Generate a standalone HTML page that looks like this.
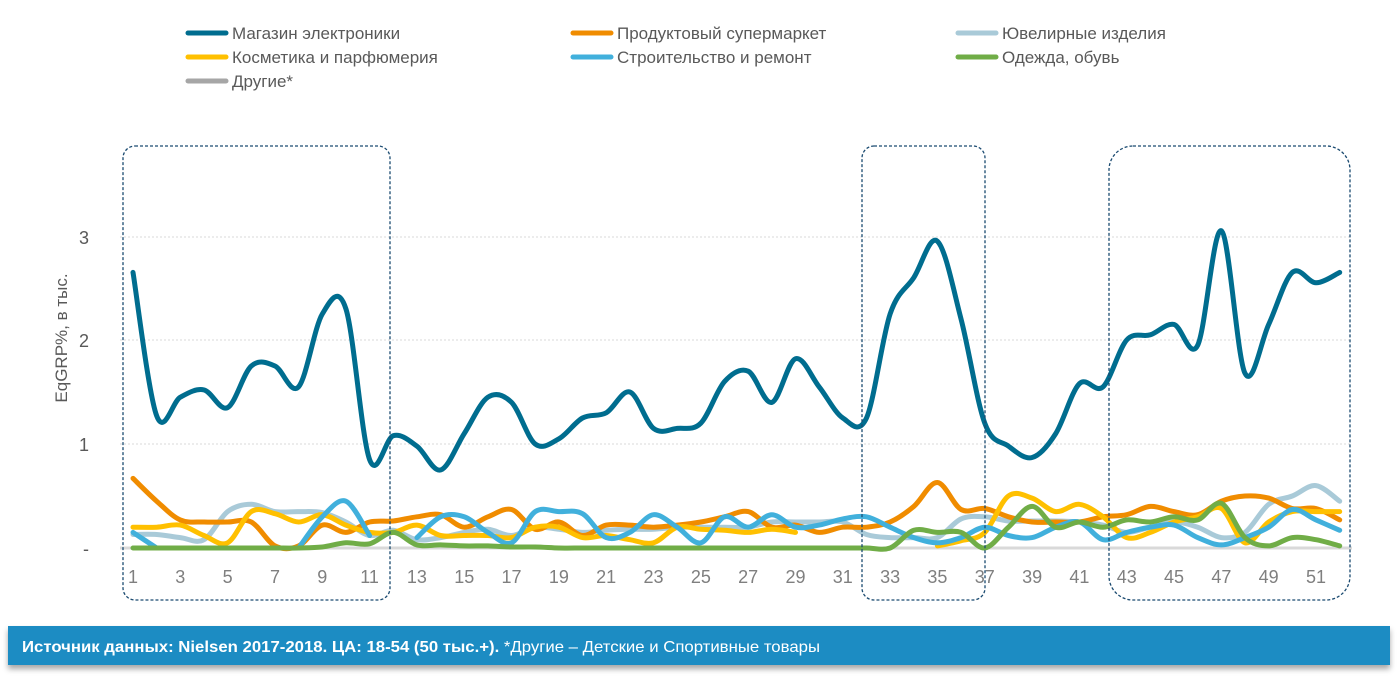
<!DOCTYPE html>
<html><head><meta charset="utf-8"><style>
html,body{margin:0;padding:0;background:#fff;}
svg{display:block;font-family:"Liberation Sans",sans-serif;}
</style></head><body>
<svg id="s" width="1398" height="681" viewBox="0 0 1398 681" xmlns="http://www.w3.org/2000/svg">
<defs><filter id="sh" x="-5%" y="-50%" width="110%" height="200%"><feDropShadow dx="0" dy="4" stdDeviation="3" flood-color="#000" flood-opacity="0.35"/></filter></defs>
<g stroke="#d9d9d9" stroke-width="1" stroke-dasharray="2,2">
<line x1="120" y1="237" x2="1352" y2="237"/><line x1="120" y1="340" x2="1352" y2="340"/><line x1="120" y1="444" x2="1352" y2="444"/>
</g>
<line x1="120" y1="548" x2="1352" y2="548" stroke="#d9d9d9" stroke-width="3"/>
<g fill="#595959" font-size="18" text-anchor="end">
<text x="89" y="244">3</text><text x="89" y="347">2</text><text x="89" y="451">1</text><text x="89" y="555">-</text>
</g>
<text transform="translate(67,338) rotate(-90)" text-anchor="middle" font-size="17" fill="#595959">EqGRP%, в тыс.</text>
<g id="xl" fill="#7f7f7f" font-size="18" text-anchor="middle"></g>
<g id="lines" fill="none" stroke-width="5" stroke-linecap="round" stroke-linejoin="round"></g>
<g fill="none" stroke="#1a4a70" stroke-width="1.3" stroke-dasharray="3,2">
<rect x="123" y="146" width="267" height="454" rx="12"/>
<rect x="862" y="146" width="123" height="454" rx="12"/>
<rect x="1109" y="146" width="241" height="454" rx="24"/>
</g>
<g font-size="17" fill="#595959" stroke-width="5" stroke-linecap="round">
<line x1="188" y1="33" x2="226" y2="33" stroke="#006d8f"/><text x="232" y="39">Магазин электроники</text>
<line x1="573" y1="33" x2="611" y2="33" stroke="#f08c00"/><text x="617" y="39">Продуктовый супермаркет</text>
<line x1="958" y1="33" x2="996" y2="33" stroke="#a9cad8"/><text x="1002" y="39">Ювелирные изделия</text>
<line x1="188" y1="57" x2="226" y2="57" stroke="#ffc000"/><text x="232" y="63">Косметика и парфюмерия</text>
<line x1="573" y1="57" x2="611" y2="57" stroke="#41b0dc"/><text x="617" y="63">Строительство и ремонт</text>
<line x1="958" y1="57" x2="996" y2="57" stroke="#70ad47"/><text x="1002" y="63">Одежда, обувь</text>
<line x1="188" y1="81" x2="226" y2="81" stroke="#a6a6a6"/><text x="232" y="87">Другие*</text>
</g>
<rect x="8" y="626" width="1382" height="39" fill="#1b8cc3" filter="url(#sh)"/>
<text x="22" y="652" font-size="16" fill="#fff" font-family="'Liberation Sans Narrow','Liberation Sans',sans-serif" textLength="798" lengthAdjust="spacingAndGlyphs"><tspan font-weight="bold">Источник данных: Nielsen 2017-2018. ЦА: 18-54 (50 тыс.+).</tspan> *Другие – Детские и Спортивные товары</text>
</svg>
<script>
var X=function(w){return 133+23.66*(w-1)},Y=function(v){return 548-104*v};
var xl=document.getElementById('xl'),h='';
for(var w=1;w<=51;w+=2)h+='<text x="'+X(w)+'" y="583">'+w+'</text>';xl.innerHTML=h;
var S=[
['#006d8f',1,[2.65,1.27,1.45,1.52,1.35,1.75,1.75,1.55,2.25,2.3,0.85,1.08,0.98,0.75,1.1,1.45,1.4,1.0,1.05,1.25,1.3,1.5,1.15,1.15,1.2,1.6,1.7,1.4,1.82,1.55,1.25,1.25,2.25,2.6,2.95,2.2,1.2,0.98,0.87,1.1,1.58,1.55,2.0,2.05,2.15,1.95,3.05,1.68,2.15,2.65,2.55,2.65]],
['#a9cad8',1,[.13,.13,.1,.08,.35,.42,.35,.35,.34,.25,.12,.17,.08,.1,.15,.18,.12,.2,.18,.15,.17,.18,.18,.2,.2,.2,.2,.25,.25,.25,.25,.13,.1,.1,.1,.28,.3,.26,.26,.26,.25,.22,.15,.2,.25,.2,.1,.15,.42,.5,.6,.45]],
['#f08c00',1,[.67,.45,.27,.25,.25,.25,.02,.02,.22,.15,.25,.26,.3,.32,.2,.3,.37,.18,.25,.12,.22,.22,.2,.22,.25,.3,.35,.2,.22,.15,.2,.2,.25,.4,.63,.37,.38,.3,.25,.25,.25,.3,.32,.4,.35,.32,.45,.5,.48,.38,.38,.27]],
['#ffc000',1,[.2,.2,.22,.12,.05,.35,.33,.25,.32,.22,.15,.15,.22,.12,.12,.12,.1,.2,.2,.1,.12,.08,.05,.2,.18,.17,.15,.18,.15,null,null,null,null,null,.02,.07,.15,.5,.48,.35,.42,.3,.1,.15,.25,.3,.38,.05,.25,.35,.35,.35]],
['#41b0dc',1,[.15,0,null,null,null,null,null,0,.3,.45,.12,null,.1,.3,.3,.15,.05,.35,.35,.33,.1,.15,.32,.2,.05,.3,.2,.32,.2,.22,.28,.3,.2,.1,.05,.1,.2,.12,.1,.2,.25,.08,.15,.2,.22,.1,.03,.1,.2,.37,.27,.17]],
['#70ad47',1,[0,0,0,0,0,0,0,0,.01,.05,.04,.15,.03,.03,.02,.02,.01,.01,0,0,0,0,0,0,0,0,0,0,0,0,0,0,0,.17,.15,.15,0,.2,.4,.2,.25,.2,.27,.25,.3,.27,.43,.1,.02,.1,.08,.02]]
];
var g=document.getElementById('lines'),o='';
S.forEach(function(s){
 var segs=[],cur=[];
 s[2].forEach(function(v,i){if(v===null){if(cur.length)segs.push(cur);cur=[];}else cur.push([X(i+1),Y(v)]);});
 if(cur.length)segs.push(cur);
 segs.forEach(function(p){
  if(p.length<2)return;
  var d='M'+p[0][0]+','+p[0][1];
  for(var i=0;i<p.length-1;i++){
   var p0=p[i-1]||p[i],p1=p[i],p2=p[i+1],p3=p[i+2]||p2;
   var c1x=p1[0]+(p2[0]-p0[0])/6,c1y=p1[1]+(p2[1]-p0[1])/6,c2x=p2[0]-(p3[0]-p1[0])/6,c2y=p2[1]-(p3[1]-p1[1])/6;
   d+='C'+c1x.toFixed(1)+','+c1y.toFixed(1)+' '+c2x.toFixed(1)+','+c2y.toFixed(1)+' '+p2[0].toFixed(1)+','+p2[1].toFixed(1);
  }
  o+='<path d="'+d+'" stroke="'+s[0]+'"/>';
 });
});
g.innerHTML=o;
</script>
</body></html>
